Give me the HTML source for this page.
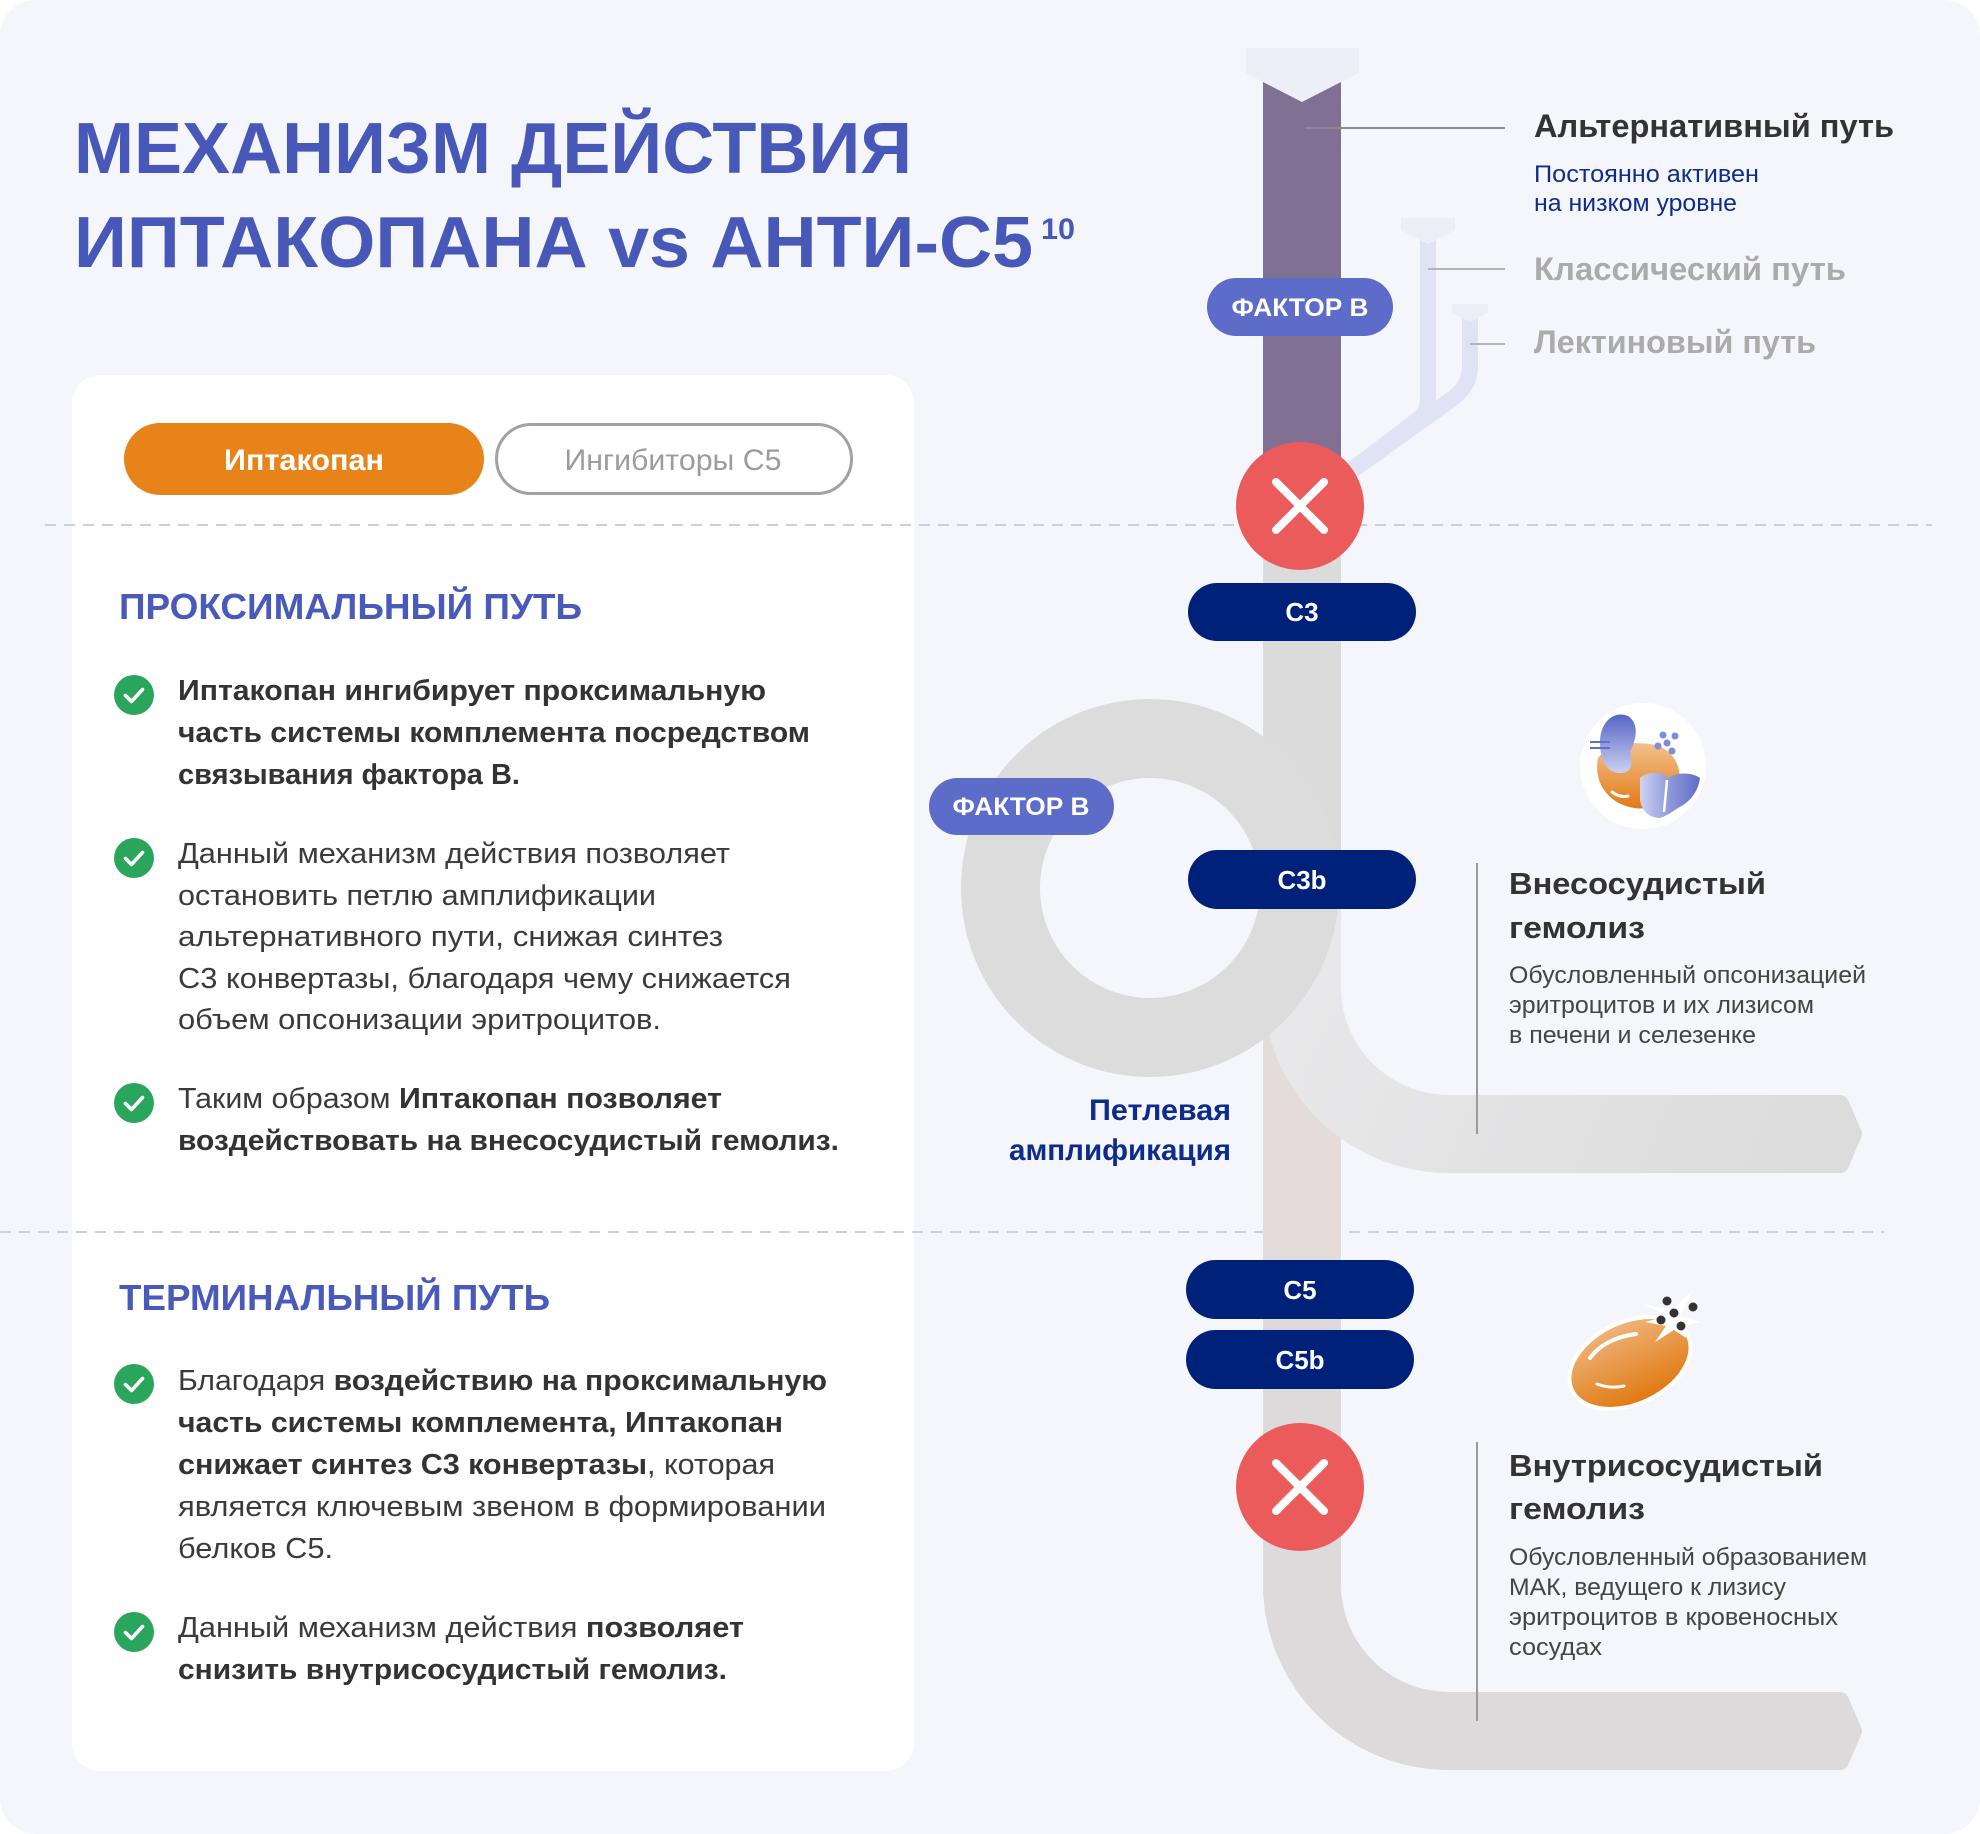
<!DOCTYPE html>
<html><head><meta charset="utf-8"><style>
html,body{margin:0;padding:0;background:#fff;}
svg{display:block;}
text{font-family:"Liberation Sans",Arial,sans-serif;}
</style></head><body>
<svg width="1980" height="1834" viewBox="0 0 1980 1834" xmlns="http://www.w3.org/2000/svg">
<defs>
<linearGradient id="br1" x1="1263" y1="905" x2="1862" y2="1173" gradientUnits="userSpaceOnUse"><stop offset="0" stop-color="#eaeaec"/><stop offset="0.5" stop-color="#e2e2e3"/><stop offset="1" stop-color="#dbdbdb"/></linearGradient>
<linearGradient id="kid" x1="0" y1="0" x2="0" y2="1"><stop offset="0" stop-color="#5564c4"/><stop offset="1" stop-color="#cdd1f1"/></linearGradient>
<linearGradient id="liv" x1="0" y1="0" x2="1" y2="0"><stop offset="0" stop-color="#cfd3f1"/><stop offset="0.5" stop-color="#8d98d8"/><stop offset="1" stop-color="#5f6cc6"/></linearGradient>
<linearGradient id="org" x1="0" y1="0" x2="0" y2="1"><stop offset="0" stop-color="#f3c08c"/><stop offset="1" stop-color="#e27a16"/></linearGradient>
<linearGradient id="rbc" x1="0" y1="0" x2="0" y2="1"><stop offset="0" stop-color="#eeb47a"/><stop offset="1" stop-color="#e17810"/></linearGradient>
</defs>

<!-- background -->
<rect x="0" y="0" width="1980" height="1834" rx="36" fill="#f5f6fb"/>

<!-- title -->
<text x="74" y="173" font-size="72" font-weight="700" fill="#4858b8" textLength="838" lengthAdjust="spacingAndGlyphs">МЕХАНИЗМ ДЕЙСТВИЯ</text>
<text x="74" y="267" font-size="72" font-weight="700" fill="#4858b8" textLength="959" lengthAdjust="spacingAndGlyphs">ИПТАКОПАНА vs АНТИ-С5</text>
<text x="1041" y="239" font-size="30" font-weight="700" fill="#4858b8" textLength="34" lengthAdjust="spacingAndGlyphs">10</text>

<!-- card -->
<rect x="72" y="375" width="842" height="1396" rx="28" fill="#ffffff"/>

<!-- buttons -->
<rect x="124" y="423" width="360" height="72" rx="36" fill="#e8831a"/>
<text x="304" y="470" font-size="30" font-weight="700" fill="#ffffff" text-anchor="middle" textLength="160" lengthAdjust="spacingAndGlyphs">Иптакопан</text>
<rect x="496.5" y="424.5" width="355" height="69" rx="34.5" fill="#ffffff" stroke="#a2a2a2" stroke-width="3"/>
<text x="673" y="470" font-size="30" fill="#9c9c9c" text-anchor="middle" textLength="217" lengthAdjust="spacingAndGlyphs">Ингибиторы С5</text>

<!-- dashed lines -->
<line x1="45" y1="525" x2="1932" y2="525" stroke="#cbcfe6" stroke-width="2" stroke-dasharray="11 8"/>
<line x1="0" y1="1232" x2="1884" y2="1232" stroke="#cbcfe6" stroke-width="2" stroke-dasharray="11 8"/>

<!-- headings -->
<text x="119" y="619" font-size="36" font-weight="700" fill="#4a5abb" textLength="463" lengthAdjust="spacingAndGlyphs">ПРОКСИМАЛЬНЫЙ ПУТЬ</text>
<text x="119" y="1310" font-size="36" font-weight="700" fill="#4a5abb" textLength="431" lengthAdjust="spacingAndGlyphs">ТЕРМИНАЛЬНЫЙ ПУТЬ</text>

<!-- check icons -->
<g fill="#29a55c">
<circle cx="134" cy="695" r="20"/><circle cx="134" cy="858" r="20"/><circle cx="134" cy="1103" r="20"/><circle cx="134" cy="1384" r="20"/><circle cx="134" cy="1632" r="20"/>
</g>
<g fill="none" stroke="#ffffff" stroke-width="3.6" stroke-linecap="round" stroke-linejoin="round">
<path d="M125.5,695.5 L131.5,701.5 L142.5,689.5"/>
<path d="M125.5,858.5 L131.5,864.5 L142.5,852.5"/>
<path d="M125.5,1103.5 L131.5,1109.5 L142.5,1097.5"/>
<path d="M125.5,1384.5 L131.5,1390.5 L142.5,1378.5"/>
<path d="M125.5,1632.5 L131.5,1638.5 L142.5,1626.5"/>
</g>

<!-- body text -->
<g font-size="29" fill="#3a3a3a">
<text x="178" y="700" font-weight="700" fill="#333" textLength="588" lengthAdjust="spacingAndGlyphs">Иптакопан ингибирует проксимальную</text>
<text x="178" y="742" font-weight="700" fill="#333" textLength="632" lengthAdjust="spacingAndGlyphs">часть системы комплемента посредством</text>
<text x="178" y="784" font-weight="700" fill="#333" textLength="342" lengthAdjust="spacingAndGlyphs">связывания фактора В.</text>

<text x="178" y="863" textLength="552" lengthAdjust="spacingAndGlyphs">Данный механизм действия позволяет</text>
<text x="178" y="905" textLength="478" lengthAdjust="spacingAndGlyphs">остановить петлю амплификации</text>
<text x="178" y="946" textLength="545" lengthAdjust="spacingAndGlyphs">альтернативного пути, снижая синтез</text>
<text x="178" y="988" textLength="613" lengthAdjust="spacingAndGlyphs">С3 конвертазы, благодаря чему снижается</text>
<text x="178" y="1029" textLength="483" lengthAdjust="spacingAndGlyphs">объем опсонизации эритроцитов.</text>

<text x="178" y="1108" textLength="544" lengthAdjust="spacingAndGlyphs">Таким образом <tspan font-weight="700" fill="#333">Иптакопан позволяет</tspan></text>
<text x="178" y="1150" font-weight="700" fill="#333" textLength="661" lengthAdjust="spacingAndGlyphs">воздействовать на внесосудистый гемолиз.</text>

<text x="178" y="1390" textLength="649" lengthAdjust="spacingAndGlyphs">Благодаря <tspan font-weight="700" fill="#333">воздействию на проксимальную</tspan></text>
<text x="178" y="1432" font-weight="700" fill="#333" textLength="605" lengthAdjust="spacingAndGlyphs">часть системы комплемента, Иптакопан</text>
<text x="178" y="1474" textLength="597" lengthAdjust="spacingAndGlyphs"><tspan font-weight="700" fill="#333">снижает синтез С3 конвертазы</tspan>, которая</text>
<text x="178" y="1516" textLength="648" lengthAdjust="spacingAndGlyphs">является ключевым звеном в формировании</text>
<text x="178" y="1558" textLength="155" lengthAdjust="spacingAndGlyphs">белков С5.</text>

<text x="178" y="1637" textLength="566" lengthAdjust="spacingAndGlyphs">Данный механизм действия <tspan font-weight="700" fill="#333">позволяет</tspan></text>
<text x="178" y="1679" font-weight="700" fill="#333" textLength="549" lengthAdjust="spacingAndGlyphs">снизить внутрисосудистый гемолиз.</text>
</g>

<!-- ===== DIAGRAM ===== -->
<!-- classic & lectin pipes -->
<g fill="none" stroke="#dfe3f3" stroke-width="16" stroke-linejoin="round">
<path d="M1428,240 L1428,400 Q1428,412 1416,421 L1325,490"/>
<path d="M1470,318 L1470,366 Q1470,386 1452,399 L1325,490"/>
</g>
<polygon points="1401,218 1455,218 1455,230 1428,244 1401,230" fill="#eceef6"/>
<polygon points="1452,304 1488,304 1488,313 1470,322 1452,313" fill="#eceef6"/>

<!-- main upper gray bar -->
<rect x="1263" y="500" width="78" height="505" fill="#dbdbdb"/>
<!-- pinkish bar -->
<rect x="1263" y="1000" width="78" height="262" fill="#e3dcdb"/>
<!-- upper branch -->
<path d="M1263,905 L1263,987 A186,186 0 0 0 1449,1173 L1840,1173 Q1846,1173 1849,1166 L1861,1138 Q1863,1134 1861,1130 L1849,1102 Q1846,1095 1840,1095 L1449,1095 A108,108 0 0 1 1341,987 L1341,905 Z" fill="url(#br1)"/>
<!-- ring -->
<circle cx="1150" cy="888" r="149.5" fill="none" stroke="#dcdcdc" stroke-width="79"/>

<!-- lower bar + branch -->
<path d="M1263,1260 L1263,1584 A186,186 0 0 0 1449,1770 L1840,1770 Q1846,1770 1849,1763 L1861,1735 Q1863,1731 1861,1727 L1849,1699 Q1846,1692 1840,1692 L1449,1692 A108,108 0 0 1 1341,1584 L1341,1260 Z" fill="#dcdada"/>

<!-- purple bar -->
<rect x="1263" y="82" width="78" height="424" fill="#7f7094"/>
<polygon points="1246,48 1359,48 1359,73 1341,82 1302,102 1263,82 1246,73" fill="#eeeff6"/>
<line x1="1305" y1="128" x2="1505" y2="128" stroke="#8c8c8c" stroke-width="2"/>
<line x1="1428" y1="269" x2="1505" y2="269" stroke="#b3b3b3" stroke-width="2"/>
<line x1="1470" y1="344" x2="1505" y2="344" stroke="#b3b3b3" stroke-width="2"/>

<!-- factor B pills -->
<rect x="1207" y="278" width="186" height="58" rx="29" fill="#5c6cc8"/>
<text x="1300" y="316" font-size="25" font-weight="700" fill="#fff" text-anchor="middle" textLength="137" lengthAdjust="spacingAndGlyphs">ФАКТОР В</text>
<rect x="929" y="778" width="185" height="57" rx="28.5" fill="#5c6cc8"/>
<text x="1021" y="815" font-size="25" font-weight="700" fill="#fff" text-anchor="middle" textLength="137" lengthAdjust="spacingAndGlyphs">ФАКТОР В</text>

<!-- X circles -->
<circle cx="1300" cy="506" r="64" fill="#ec5b5b"/>
<path d="M1276,482 L1324,530 M1324,482 L1276,530" stroke="#fff" stroke-width="8" stroke-linecap="round"/>
<circle cx="1300" cy="1487" r="64" fill="#ec5b5b"/>
<path d="M1276,1463 L1324,1511 M1324,1463 L1276,1511" stroke="#fff" stroke-width="8" stroke-linecap="round"/>

<!-- navy pills -->
<g fill="#00217a">
<rect x="1188" y="583" width="228" height="58" rx="29"/>
<rect x="1188" y="850" width="228" height="59" rx="29.5"/>
<rect x="1186" y="1260" width="228" height="59" rx="29.5"/>
<rect x="1186" y="1330" width="228" height="59" rx="29.5"/>
</g>
<g font-size="26" font-weight="700" fill="#fff" text-anchor="middle">
<text x="1302" y="621">C3</text>
<text x="1302" y="889">C3b</text>
<text x="1300" y="1299">C5</text>
<text x="1300" y="1369">C5b</text>
</g>

<!-- loop label -->
<text x="1231" y="1120" font-size="30" font-weight="700" fill="#0e2c8c" text-anchor="end" textLength="142" lengthAdjust="spacingAndGlyphs">Петлевая</text>
<text x="1231" y="1160" font-size="30" font-weight="700" fill="#0e2c8c" text-anchor="end" textLength="222" lengthAdjust="spacingAndGlyphs">амплификация</text>

<!-- right labels -->
<text x="1534" y="137" font-size="32" font-weight="700" fill="#333" textLength="360" lengthAdjust="spacingAndGlyphs">Альтернативный путь</text>
<text x="1534" y="182" font-size="24" fill="#0e2c8e" textLength="225" lengthAdjust="spacingAndGlyphs">Постоянно активен</text>
<text x="1534" y="211" font-size="24" fill="#0e2c8e" textLength="203" lengthAdjust="spacingAndGlyphs">на низком уровне</text>
<text x="1534" y="280" font-size="32" font-weight="700" fill="#ababab" textLength="312" lengthAdjust="spacingAndGlyphs">Классический путь</text>
<text x="1534" y="353" font-size="32" font-weight="700" fill="#ababab" textLength="282" lengthAdjust="spacingAndGlyphs">Лектиновый путь</text>

<!-- block 1 -->
<line x1="1477" y1="863" x2="1477" y2="1134" stroke="#9a9a9a" stroke-width="2"/>
<text x="1509" y="894" font-size="31" font-weight="700" fill="#333" textLength="257" lengthAdjust="spacingAndGlyphs">Внесосудистый</text>
<text x="1509" y="938" font-size="31" font-weight="700" fill="#333" textLength="136" lengthAdjust="spacingAndGlyphs">гемолиз</text>
<g font-size="24" fill="#444">
<text x="1509" y="983" textLength="357" lengthAdjust="spacingAndGlyphs">Обусловленный опсонизацией</text>
<text x="1509" y="1013" textLength="305" lengthAdjust="spacingAndGlyphs">эритроцитов и их лизисом</text>
<text x="1509" y="1043" textLength="247" lengthAdjust="spacingAndGlyphs">в печени и селезенке</text>
</g>

<!-- block 2 -->
<line x1="1477" y1="1442" x2="1477" y2="1721" stroke="#9a9a9a" stroke-width="2"/>
<text x="1509" y="1476" font-size="31" font-weight="700" fill="#333" textLength="314" lengthAdjust="spacingAndGlyphs">Внутрисосудистый</text>
<text x="1509" y="1519" font-size="31" font-weight="700" fill="#333" textLength="136" lengthAdjust="spacingAndGlyphs">гемолиз</text>
<g font-size="24" fill="#444">
<text x="1509" y="1565" textLength="358" lengthAdjust="spacingAndGlyphs">Обусловленный образованием</text>
<text x="1509" y="1595" textLength="277" lengthAdjust="spacingAndGlyphs">МАК, ведущего к лизису</text>
<text x="1509" y="1625" textLength="329" lengthAdjust="spacingAndGlyphs">эритроцитов в кровеносных</text>
<text x="1509" y="1655" textLength="93" lengthAdjust="spacingAndGlyphs">сосудах</text>
</g>

<!-- icon 1: organs -->
<circle cx="1643" cy="766" r="63" fill="#ffffff"/>
<path d="M1598,758 C1592,790 1618,812 1650,808 C1668,806 1680,796 1680,780 C1680,760 1668,746 1650,744 C1632,742 1610,742 1598,758 Z" fill="url(#org)"/>
<path d="M1612,792 Q1620,798 1628,796" stroke="#fff" stroke-width="3" fill="none" stroke-linecap="round"/>
<path d="M1628,716 C1614,710 1600,722 1600,742 C1600,762 1608,774 1622,773 C1634,772 1632,760 1630,752 C1636,740 1640,724 1628,716 Z" fill="url(#kid)"/>
<path d="M1590,742 L1610,742 M1590,748 L1610,748" stroke="#6070c8" stroke-width="2"/>
<path d="M1640,778 C1650,770 1664,772 1668,778 C1676,772 1692,772 1700,778 C1698,792 1690,802 1678,808 C1672,812 1666,816 1660,818 C1650,818 1642,812 1640,800 Z" fill="url(#liv)"/>
<path d="M1667,780 L1664,812" stroke="#fff" stroke-width="2.5"/>
<g fill="#7f8bd6"><circle cx="1663" cy="735" r="3.5"/><circle cx="1675" cy="736" r="3.5"/><circle cx="1667" cy="743" r="3.5"/><circle cx="1658" cy="746" r="3.5"/><circle cx="1672" cy="751" r="3.5"/></g>

<!-- icon 2: RBC -->
<ellipse cx="1630" cy="1363" rx="64" ry="41" transform="rotate(-25 1630 1363)" fill="url(#rbc)" stroke="#ffffff" stroke-width="4"/>
<path d="M1590,1358 Q1605,1338 1636,1334" stroke="#fff" stroke-width="4" fill="none" stroke-linecap="round"/>
<path d="M1597,1384 Q1610,1389 1624,1386" stroke="#fff" stroke-width="3" fill="none" stroke-linecap="round"/>
<polygon points="1693,1290 1680,1316 1700,1322 1684,1326 1686,1338 1674,1330 1655,1342 1666,1326 1645,1322 1668,1316 1643,1304 1672,1310" fill="#ffffff"/>
<g fill="#333"><circle cx="1667" cy="1301" r="4.5"/><circle cx="1693" cy="1307" r="4.5"/><circle cx="1674" cy="1313" r="4.5"/><circle cx="1661" cy="1320" r="4.5"/><circle cx="1681" cy="1326" r="4.5"/></g>
</svg>
</body></html>
